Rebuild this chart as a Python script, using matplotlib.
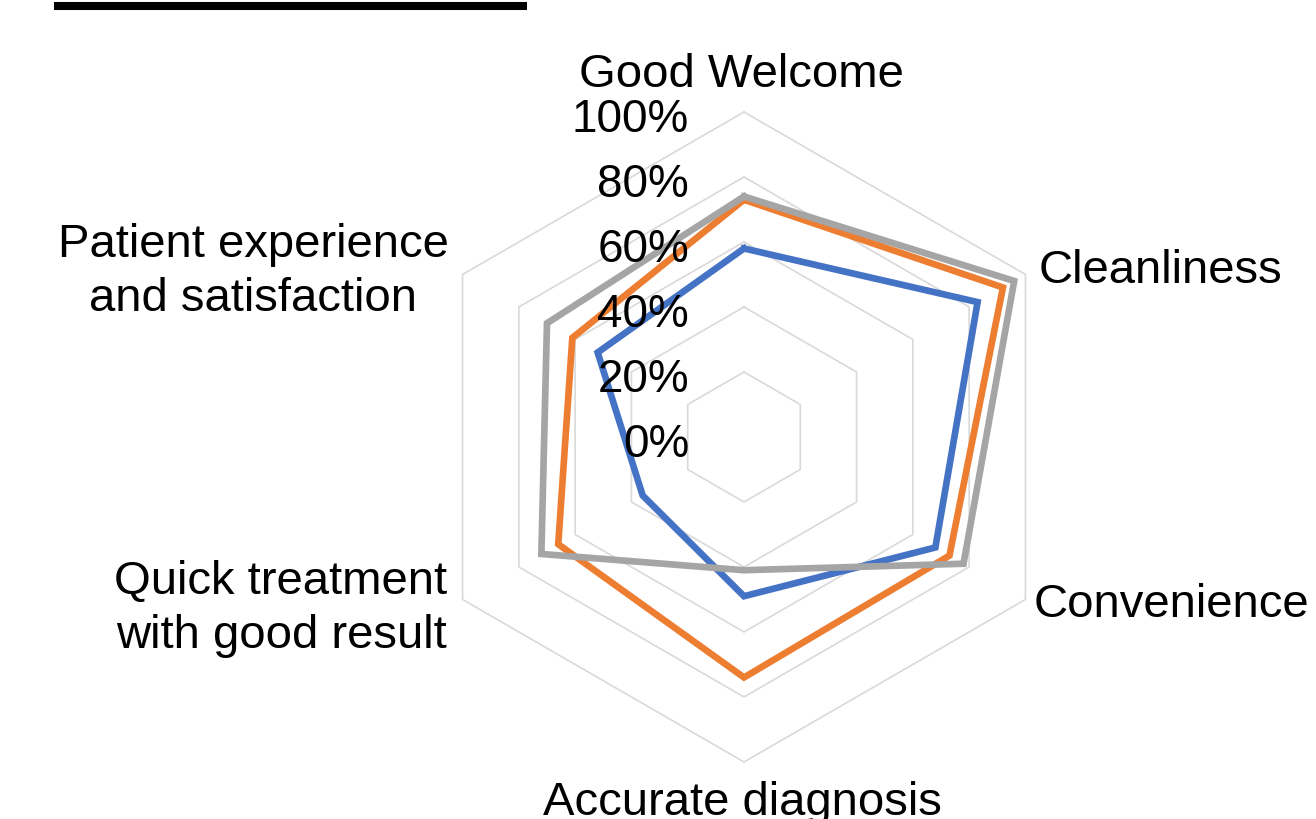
import numpy as np
import matplotlib
matplotlib.use('Agg')
import matplotlib.pyplot as plt
from matplotlib.lines import Line2D

plt.rcParams['font.family'] = ['Liberation Sans', 'DejaVu Sans']

categories = ['Good Welcome', 'Cleanliness', 'Convenience', 'Accurate diagnosis',
              'Quick treatment\nwith good result', 'Patient experience\nand satisfaction']
series1 = [0.58, 0.83, 0.68, 0.49, 0.36, 0.52]
series2 = [0.73, 0.92, 0.73, 0.74, 0.66, 0.61]
series3 = [0.74, 0.96, 0.78, 0.41, 0.72, 0.70]
levels = [0.2, 0.4, 0.6, 0.8, 1.0]
tick_labels = ['0%', '20%', '40%', '60%', '80%', '100%']
colors = ['#4472C4', '#ED7D31', '#A5A5A5']

angles = np.linspace(0, 2 * np.pi, len(categories), endpoint=False)
closed = np.append(angles, angles[0])

fig = plt.figure(figsize=(13.16, 8.19), dpi=100)
ax = fig.add_axes([0.3184, 0.0696, 0.4939, 0.7937], projection='polar')
ax.set_theta_offset(np.pi / 2)
ax.set_theta_direction(-1)
ax.set_ylim(0, 1)
ax.set_axis_off()

# hexagonal grid
for lv in levels:
    ax.plot(closed, [lv] * len(closed), color='#D9D9D9', lw=1.2, clip_on=False, zorder=1)

for vals, c in zip([series1, series2, series3], colors):
    ax.plot(closed, vals + vals[:1], color=c, lw=4.8, solid_joinstyle='miter',
            clip_on=False, zorder=3)

# radial tick labels
for lv, t in zip([0.0] + levels, tick_labels):
    ax.annotate(t, xy=(0, lv), xytext=(-55, -20), textcoords='offset pixels',
                ha='right', va='baseline', fontsize=33, zorder=4)

# category labels
offsets = [(-3, 25, 'center'), (13, -9, 'left'), (8, -18, 'left'),
           (-2, -53, 'center'), (-15, -49, 'right'), (-14, -37, 'right')]
for a, name, (dx, dy, ha) in zip(angles, categories, offsets):
    ax.annotate(name, xy=(a, 1.0), xytext=(dx, dy), textcoords='offset pixels',
                ha=ha, va='baseline', fontsize=34, linespacing=1.3,
                multialignment='center', annotation_clip=False)

fig.add_artist(Line2D([54 / 1316, 527 / 1316], [1 - 6 / 819, 1 - 6 / 819],
                      transform=fig.transFigure, color='black', lw=5.8,
                      solid_capstyle='butt'))

fig.savefig('out.png', dpi=100)
